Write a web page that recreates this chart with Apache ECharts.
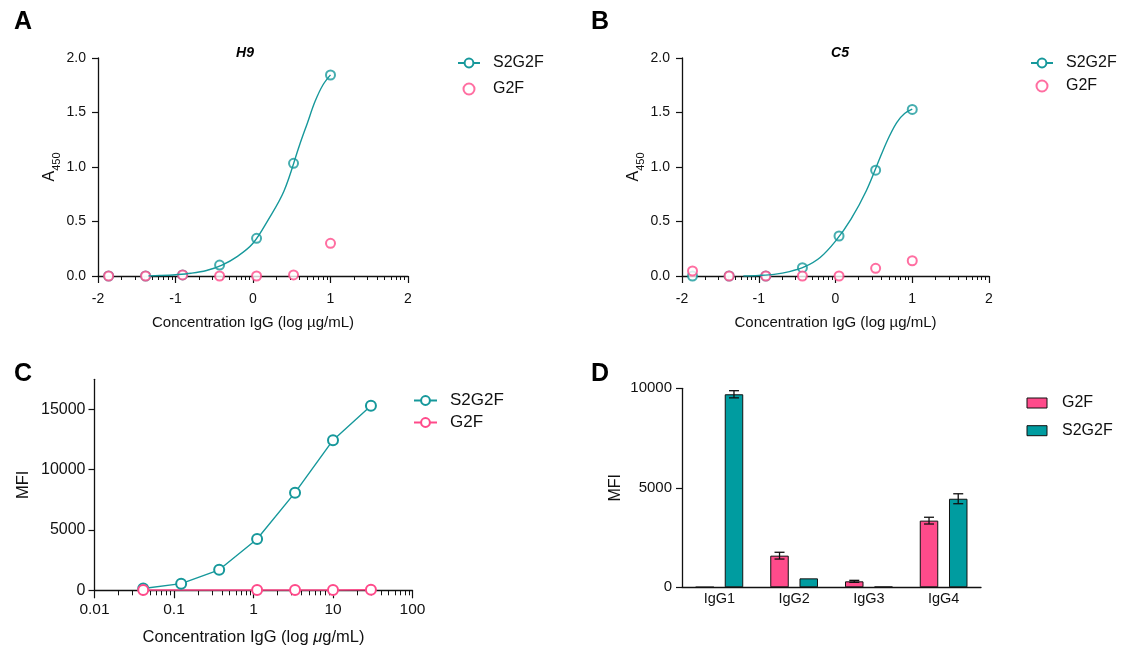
<!DOCTYPE html>
<html>
<head>
<meta charset="utf-8">
<script src="https://cdn.jsdelivr.net/npm/echarts@6/dist/echarts.min.js"></script>
<style>
  body { margin: 0; background: #fff; }
  .panel { position: absolute; width: 566px; height: 325px; }
  .top { height: 345px; }
</style>
</head>
<body>
<div id="a" class="panel top" style="left:0;top:0"></div>
<div id="b" class="panel top" style="left:566px;top:0"></div>
<div id="c" class="panel" style="left:0;top:325px"></div>
<div id="d" class="panel" style="left:566px;top:325px"></div>
<script>
// ELISA, x = log concentration (ug/mL)
var logConc = [-1.863, -1.386, -0.908, -0.431, 0.046, 0.523, 1.0];
var h9S2G2F = [0.0, 0.0, 0.01, 0.10, 0.346, 1.034, 1.844];
var h9G2F = [0.0, 0.0, 0.01, 0.0, 0.0, 0.01, 0.30];
// fitted curve
var h9FitX = [-1.35, -1.2, -1.0, -0.8, -0.6, -0.4, -0.2, 0.0, 0.2, 0.4, 0.6, 0.7, 0.8, 0.9, 1.0];
var h9Fit = [0.0, 0.004, 0.012, 0.025, 0.05, 0.1, 0.18, 0.3, 0.52, 0.78, 1.2, 1.4, 1.6, 1.75, 1.845];

var c5S2G2F = [0.0, 0.0, 0.0, 0.076, 0.367, 0.971, 1.528];
var c5G2F = [0.046, 0.0, 0.0, 0.0, 0.0, 0.07, 0.14];
var c5FitX = [-1.2, -1.0, -0.8, -0.6, -0.4, -0.2, 0.0, 0.2, 0.4, 0.6, 0.7, 0.8, 0.9, 1.0];
var c5Fit = [0.0, 0.005, 0.015, 0.04, 0.085, 0.17, 0.32, 0.52, 0.78, 1.12, 1.28, 1.41, 1.49, 1.53];

// flow cytometry
var cConc = [0.041, 0.123, 0.37, 1.11, 3.33, 10, 30];
var cS2G2F = [150, 550, 1700, 4250, 8100, 12450, 15300];
var cG2FConc = [0.041, 1.11, 3.33, 10, 30];
var cG2F = [30, 20, 20, 30, 40];

// subclasses
var igg = ['IgG1', 'IgG2', 'IgG3', 'IgG4'];
var dG2F = [10, 1590, 300, 3350];
var dG2FErr = [0, 170, 50, 170];
var dS2G2F = [9700, 450, 30, 4450];
var dS2G2FErr = [180, 0, 0, 250];

var teal = '#16989b';
var pink = '#ff4a8a';
var tealBar = '#009ca0';
var pinkBar = '#ff4b8b';
var ink = '#111';
var font = 'Arial, "Liberation Sans", sans-serif';

function pairs(xs, ys) {
  return xs.map(function (x, i) { return [x, ys[i]]; });
}
function plain(v) { return String(v); }

// minor ticks of a log axis, in log10 units from -2 to 2
var minorLog = [];
for (var n = -2; n < 2; n++) {
  for (var k = 2; k < 10; k++) minorLog.push(n + Math.log10(k));
}

var axLine = { show: true, onZero: false, lineStyle: { color: ink, width: 1.3 } };

function minorAxis(len) {
  return {
    type: 'value', min: -2, max: 2, position: 'bottom',
    axisLine: { show: false },
    axisTick: { show: true, length: len, customValues: minorLog, lineStyle: { color: ink, width: 1 } },
    axisLabel: { show: false },
    splitLine: { show: false }
  };
}

function elisa(el, letter, title, grid, letterLeft, titleLeft, legendLeft, legendGap, s2, g2, fx, fy) {
  var chart = echarts.init(document.getElementById(el));
  grid.outerBoundsMode = 'none';
  chart.setOption({
    animation: false,
    textStyle: { fontFamily: font },
    title: [
      { text: letter, left: letterLeft, top: 5, textStyle: { fontSize: 25, fontWeight: 'bold', color: '#000' } },
      { text: title, left: titleLeft, top: 41, textAlign: 'center',
        textStyle: { fontSize: 14, fontWeight: 'bold', fontStyle: 'italic', color: '#000' } }
    ],
    legend: {
      orient: 'vertical', left: legendLeft, top: 50, itemWidth: 22, itemHeight: 11, itemGap: legendGap,
      textStyle: { fontSize: 16, color: ink, padding: [0, 0, 0, 8] },
      data: ['S2G2F', 'G2F']
    },
    grid: grid,
    xAxis: [{
      type: 'value', min: -2, max: 2, interval: 1,
      axisLine: axLine,
      axisTick: { length: 7, lineStyle: { color: ink, width: 1.2 } },
      axisLabel: { margin: 16, fontSize: 14, color: ink },
      splitLine: { show: false },
      name: 'Concentration IgG (log µg/mL)', nameLocation: 'middle', nameGap: 39.5, nameMoveOverlap: false,
      nameTextStyle: { fontSize: 15, color: ink }
    }, minorAxis(4)],
    yAxis: {
      type: 'value', min: 0, max: 2, interval: 0.5,
      axisLine: axLine,
      axisTick: { show: true, length: 6, lineStyle: { color: ink, width: 1.2 } },
      axisLabel: { margin: 12, fontSize: 14, color: ink, formatter: function (v) { return v.toFixed(1); } },
      splitLine: { show: false },
      name: '{a|A}{s|450}', nameLocation: 'middle', nameRotate: 90, nameGap: 40, nameMoveOverlap: false,
      nameTextStyle: {
        color: ink,
        rich: {
          a: { fontSize: 16, lineHeight: 16, verticalAlign: 'top', color: ink },
          s: { fontSize: 11, lineHeight: 11, padding: [9, 0, 0, 0], verticalAlign: 'top', color: ink }
        }
      }
    },
    series: [{
      name: 'S2G2F', type: 'line', data: pairs(fx, fy), smooth: 0.35,
      showSymbol: false, symbol: 'emptyCircle', symbolSize: 9,
      lineStyle: { color: teal, width: 1.4 }, itemStyle: { color: teal }
    }, {
      name: 'S2G2F', type: 'scatter', data: pairs(logConc, s2),
      symbol: 'emptyCircle', symbolSize: 9,
      itemStyle: { color: teal, borderColor: teal, borderWidth: 1.4 }
    }, {
      name: 'G2F', type: 'scatter', data: pairs(logConc, g2),
      symbol: 'emptyCircle', symbolSize: 9,
      itemStyle: { color: pink, borderColor: pink, borderWidth: 1.4 }
    }]
  });
}

elisa('a', 'A', 'H9', { left: 98, top: 58, width: 310, height: 218 }, 9, 240, 452, 10,
  h9S2G2F, h9G2F, h9FitX, h9Fit);
elisa('b', 'B', 'C5', { left: 116, top: 58, width: 307, height: 218 }, 20, 269, 459, 7,
  c5S2G2F, c5G2F, c5FitX, c5Fit);

// C: MFI vs concentration, log axis
var chartC = echarts.init(document.getElementById('c'));
chartC.setOption({
  animation: false,
  textStyle: { fontFamily: font },
  title: { text: 'C', left: 9, top: 32, textStyle: { fontSize: 25, fontWeight: 'bold', color: '#000' } },
  legend: {
    orient: 'vertical', left: 408, top: 62, itemWidth: 23, itemHeight: 11, itemGap: 5,
    textStyle: { fontSize: 17, color: ink, padding: [0, 0, 0, 8] },
    data: ['S2G2F', 'G2F']
  },
  grid: { left: 94.5, top: 54.3, width: 318, height: 211, outerBoundsMode: 'none' },
  xAxis: [{
    type: 'log', logBase: 10, min: 0.01, max: 100,
    axisLine: axLine,
    axisTick: { length: 8, lineStyle: { color: ink, width: 1.2 } },
    axisLabel: { margin: 11, fontSize: 15.5, color: ink,
      formatter: function (v) { return String(+(+v).toPrecision(2)); } },
    splitLine: { show: false }, minorSplitLine: { show: false },
    name: 'Concentration IgG (log {i|μ}g/mL)', nameLocation: 'middle', nameGap: 39, nameMoveOverlap: false,
    nameTextStyle: { fontSize: 16.5, color: ink, rich: { i: { fontSize: 16.5, fontStyle: 'italic', color: ink } } }
  }, minorAxis(5)],
  yAxis: {
    type: 'value', min: 0, max: 17500,
    axisLine: axLine,
    axisTick: { show: true, length: 6, customValues: [0, 5000, 10000, 15000], lineStyle: { color: ink, width: 1.2 } },
    axisLabel: { margin: 9, fontSize: 16, color: ink, customValues: [0, 5000, 10000, 15000], formatter: plain },
    splitLine: { show: false },
    name: 'MFI', nameLocation: 'middle', nameGap: 63, nameMoveOverlap: false,
    nameTextStyle: { fontSize: 16.5, color: ink }
  },
  series: [{
    name: 'S2G2F', type: 'line', data: pairs(cConc, cS2G2F),
    symbol: 'emptyCircle', symbolSize: 10,
    lineStyle: { color: teal, width: 1.4 }, itemStyle: { color: teal, borderWidth: 1.4 }
  }, {
    name: 'G2F', type: 'line', data: pairs(cG2FConc, cG2F),
    symbol: 'emptyCircle', symbolSize: 10,
    lineStyle: { color: pink, width: 1.4 }, itemStyle: { color: pink, borderWidth: 1.4 }
  }]
});

// D: bars with error bars
function errSeries(vals, errs, offset) {
  return {
    type: 'custom', z: 5,
    data: vals.map(function (v, i) { return [i, v, errs[i]]; }),
    renderItem: function (params, api) {
      var e = api.value(2);
      if (!e) return null;
      var v = api.value(1);
      var top = api.coord([api.value(0), v + e]);
      var bot = api.coord([api.value(0), v - e]);
      var x = top[0] + offset;
      var st = { stroke: '#111', lineWidth: 1.3 };
      return {
        type: 'group', children: [
          { type: 'line', shape: { x1: x, y1: top[1], x2: x, y2: bot[1] }, style: st },
          { type: 'line', shape: { x1: x - 5, y1: top[1], x2: x + 5, y2: top[1] }, style: st },
          { type: 'line', shape: { x1: x - 5, y1: bot[1], x2: x + 5, y2: bot[1] }, style: st }
        ]
      };
    }
  };
}

var chartD = echarts.init(document.getElementById('d'));
chartD.setOption({
  animation: false,
  textStyle: { fontFamily: font },
  title: { text: 'D', left: 20, top: 32, textStyle: { fontSize: 25, fontWeight: 'bold', color: '#000' } },
  legend: {
    orient: 'vertical', left: 455.5, top: 65, itemWidth: 20, itemHeight: 10, itemGap: 11.7,
    icon: 'rect',
    itemStyle: { borderColor: '#111', borderWidth: 1 },
    textStyle: { fontSize: 16, color: ink, padding: [0, 0, 0, 10] },
    data: ['G2F', 'S2G2F']
  },
  grid: { left: 116, top: 63.3, width: 299, height: 199, outerBoundsMode: 'none' },
  xAxis: {
    type: 'category', data: igg,
    axisLine: axLine, axisTick: { show: false },
    axisLabel: { margin: 4, fontSize: 14.5, color: ink }
  },
  yAxis: {
    type: 'value', min: 0, max: 10000, interval: 5000,
    axisLine: axLine,
    axisTick: { show: true, length: 6, lineStyle: { color: ink, width: 1.2 } },
    axisLabel: { margin: 10, fontSize: 15, color: ink, formatter: plain },
    splitLine: { show: false },
    name: 'MFI', nameLocation: 'middle', nameGap: 58, nameMoveOverlap: false,
    nameTextStyle: { fontSize: 16, color: ink }
  },
  series: [{
    name: 'G2F', type: 'bar', data: dG2F, barWidth: 18.5, barGap: '58%',
    itemStyle: { color: pinkBar, borderColor: '#111', borderWidth: 1 }
  }, {
    name: 'S2G2F', type: 'bar', data: dS2G2F, barWidth: 18.5,
    itemStyle: { color: tealBar, borderColor: '#111', borderWidth: 1 }
  },
  errSeries(dG2F, dG2FErr, -14.6),
  errSeries(dS2G2F, dS2G2FErr, 14.6)]
});
</script>
</body>
</html>
